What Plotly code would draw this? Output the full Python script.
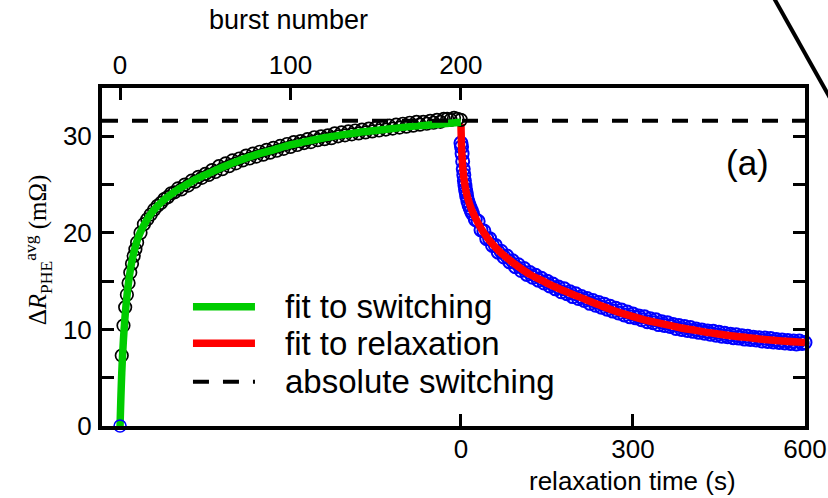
import plotly.graph_objects as go

# ---------------- data ----------------
# switching: burst number vs Delta R (mOhm)
burst_n = [1, 2, 3, 4, 5, 6, 7, 8, 9, 10,
           12, 14, 16, 18, 20, 22, 24, 26, 28, 30,
           32, 34, 36, 38, 40, 42, 44, 46, 48, 50,
           52, 54, 56, 58, 60, 62, 64, 66, 68, 70,
           72, 74, 76, 78, 80, 82, 84, 86, 88, 90,
           92, 94, 96, 98, 100, 102, 104, 106, 108, 110,
           112, 114, 116, 118, 120, 122, 124, 126, 128, 130,
           132, 134, 136, 138, 140, 142, 144, 146, 148, 150,
           152, 154, 156, 158, 160, 162, 164, 166, 168, 170,
           172, 174, 176, 178, 180, 182, 184, 186, 188, 190,
           192, 194, 196, 198, 200]
burst_R = [7.3, 10.4, 12.3, 13.6, 14.8, 15.9, 16.8, 17.6, 18.3, 19.0,
           20.0, 20.9, 21.4, 21.9, 22.4, 22.8, 23.1, 23.5, 23.7, 24.1,
           24.2, 24.6, 24.5, 25.0, 24.9, 25.4, 25.3, 25.8, 25.7, 26.1,
           26.0, 26.5, 26.3, 26.9, 26.6, 27.2, 26.9, 27.5, 27.2, 27.7,
           27.5, 28.0, 27.7, 28.2, 27.9, 28.4, 28.1, 28.6, 28.3, 28.8,
           28.5, 29.0, 28.7, 29.2, 28.9, 29.4, 29.1, 29.5, 29.3, 29.7,
           29.4, 29.9, 29.6, 30.0, 29.7, 30.1, 29.8, 30.3, 30.0, 30.4,
           30.1, 30.5, 30.2, 30.6, 30.3, 30.7, 30.4, 30.8, 30.5, 30.9,
           30.6, 31.0, 30.7, 31.1, 30.8, 31.2, 30.9, 31.3, 31.0, 31.4,
           31.1, 31.5, 31.2, 31.5, 31.3, 31.6, 31.4, 31.7, 31.5, 31.8,
           31.8, 31.7, 31.9, 31.8, 31.7]

# fit to switching
fit_sw_n = [0, 1, 2, 3, 4, 5, 6, 7, 8, 10, 12, 14, 17, 20, 25, 30, 35, 40, 45, 50,
            60, 70, 80, 90, 100, 110, 120, 130, 140, 150, 160, 170, 180, 190, 200]
fit_sw_R = [0.0, 5.5, 9.0, 11.5, 13.4, 14.9, 16.1, 17.1, 17.9, 19.2, 20.1, 20.8, 21.7, 22.4,
            23.3, 24.0, 24.6, 25.1, 25.6, 26.0, 26.8, 27.5, 28.1, 28.6, 29.1, 29.5, 29.85,
            30.15, 30.4, 30.6, 30.8, 31.0, 31.15, 31.3, 31.45]

# starting point (burst 0)
start_n = [0]
start_R = [0.0]

# relaxation: time (s) vs Delta R (mOhm)
relax_t = [0, 1, 2, 3, 4, 5, 6, 7, 8, 9, 10, 12, 14, 16, 18, 20,
           25, 30, 35, 40, 45, 50, 55, 60, 65, 70, 75, 80, 85, 90, 95, 100,
           105, 110, 115, 120, 125, 130, 135, 140, 145, 150, 155, 160, 165, 170,
           175, 180, 185, 190, 195, 200, 205, 210, 215, 220, 225, 230, 235, 240,
           245, 250, 255, 260, 265, 270, 275, 280, 285, 290, 295, 300, 305, 310,
           315, 320, 325, 330, 335, 340, 345, 350, 355, 360, 365, 370, 375, 380,
           385, 390, 395, 400, 405, 410, 415, 420, 425, 430, 435, 440, 445, 450,
           455, 460, 465, 470, 475, 480, 485, 490, 495, 500, 505, 510, 515, 520,
           525, 530, 535, 540, 545, 550, 555, 560, 565, 570, 575, 580, 585, 590,
           595, 600]
relax_R = [29.3, 28.9, 28.2, 27.4, 26.6, 26.0, 25.4, 24.9, 24.5, 24.2, 23.8, 23.3, 22.9, 22.6, 22.3, 22.0,
           21.4, 21.2, 20.3, 20.2, 19.4, 19.4, 18.7, 18.7, 18.0, 18.1, 17.5, 17.6, 17.0, 17.1, 16.5, 16.7,
           16.1, 16.3, 15.7, 15.9, 15.4, 15.6, 15.1, 15.3, 14.8, 15.0, 14.5, 14.7, 14.2, 14.4,
           13.9, 14.2, 13.7, 13.9, 13.4, 13.7, 13.2, 13.4, 13.0, 13.2, 12.7, 13.0, 12.5, 12.8,
           12.3, 12.6, 12.1, 12.4, 11.9, 12.2, 11.7, 12.0, 11.5, 11.8, 11.3, 11.6, 11.2, 11.4,
           11.0, 11.3, 10.8, 11.1, 10.7, 11.0, 10.5, 10.8, 10.4, 10.7, 10.3, 10.5, 10.1, 10.4,
           10.0, 10.3, 9.9, 10.2, 9.8, 10.05, 9.7, 9.95, 9.6, 9.85, 9.5, 9.8, 9.4, 9.7,
           9.3, 9.6, 9.25, 9.5, 9.15, 9.45, 9.1, 9.35, 9.0, 9.3, 8.95, 9.2, 8.9, 9.15,
           8.8, 9.1, 8.75, 9.05, 8.7, 8.95, 8.65, 8.9, 8.6, 8.85, 8.55, 8.8, 8.5, 8.8,
           8.55, 8.65]

# fit to relaxation
fit_rx_t = [0, 1, 2, 3, 5, 7, 10, 15, 20, 30, 40, 50, 65, 80, 100, 120, 140, 160, 180,
            200, 230, 260, 290, 320, 350, 380, 410, 440, 470, 500, 530, 560, 600]
fit_rx_R = [31.3, 29.0, 27.8, 26.9, 25.7, 24.9, 24.0, 23.0, 22.2, 21.0, 20.0, 19.2, 18.2,
            17.4, 16.5, 15.7, 15.1, 14.5, 14.0, 13.5, 12.8, 12.1, 11.5, 11.0, 10.6, 10.2,
            9.9, 9.6, 9.35, 9.15, 8.95, 8.8, 8.65]

abs_switching = 31.6

burst_ticks = [0, 100, 200]
relax_ticks = [0, 300, 600]
y_ticks = [0, 5, 10, 15, 20, 25, 30]
y_ticktext = ["0", "", "10", "", "20", "", "30"]

legend_labels = ["fit to switching", "fit to relaxation", "absolute switching"]

GREEN = "#00cc00"
RED = "#ff0000"
BLUE = "#0000ff"
SANS = "Liberation Sans, Arial, sans-serif"

fig = go.Figure()

# switching data (top axis)
fig.add_trace(go.Scatter(x=burst_n, y=burst_R, xaxis="x2", yaxis="y", mode="markers",
                         marker=dict(symbol="circle-open", size=12.5, color="black",
                                     line=dict(width=1.7, color="black")),
                         cliponaxis=False, showlegend=False))
fig.add_trace(go.Scatter(x=fit_sw_n, y=fit_sw_R, xaxis="x2", yaxis="y", mode="lines",
                         line=dict(color=GREEN, width=7.5, shape="spline"),
                         showlegend=False))
fig.add_trace(go.Scatter(x=start_n, y=start_R, xaxis="x2", yaxis="y", mode="markers",
                         marker=dict(symbol="circle-open", size=12, color=BLUE,
                                     line=dict(width=1.6, color=BLUE)),
                         cliponaxis=False, showlegend=False))

# relaxation data (bottom axis)
fig.add_trace(go.Scatter(x=relax_t, y=relax_R, xaxis="x", yaxis="y", mode="markers",
                         marker=dict(symbol="circle-open", size=13, color=BLUE,
                                     line=dict(width=2, color=BLUE)),
                         cliponaxis=False, showlegend=False))
fig.add_trace(go.Scatter(x=fit_rx_t, y=fit_rx_R, xaxis="x", yaxis="y", mode="lines",
                         line=dict(color=RED, width=7.5, shape="spline"),
                         showlegend=False))

# absolute switching level
fig.add_shape(type="line", xref="paper", yref="y", x0=0, x1=1, y0=abs_switching,
              y1=abs_switching, line=dict(color="black", width=4, dash="16px,14px"))

# manual legend
leg_y = [0.353, 0.2447, 0.1311]
leg_styles = [dict(color=GREEN, width=7.5), dict(color=RED, width=7.5),
              dict(color="black", width=4, dash="16px,14px")]
for yy, st, lab in zip(leg_y, leg_styles, legend_labels):
    fig.add_shape(type="line", xref="paper", yref="paper", x0=0.1294, x1=0.2176,
                  y0=yy, y1=yy, line=st)
    fig.add_annotation(xref="paper", yref="paper", x=0.2580, y=yy, text=lab,
                       showarrow=False, xanchor="left", yanchor="middle",
                       font=dict(family=SANS, size=33, color="black"))

# panel label
fig.add_annotation(xref="paper", yref="paper", x=0.9175, y=0.78, text="(a)",
                   showarrow=False, xanchor="center", yanchor="middle",
                   font=dict(family=SANS, size=35, color="black"))

# axis titles
fig.add_annotation(xref="paper", yref="paper", x=0.266, y=1.201, text="burst number",
                   showarrow=False, xanchor="center", yanchor="middle",
                   font=dict(family=SANS, size=27, color="black"))
fig.add_annotation(xref="paper", yref="paper", x=0.7553, y=-0.163,
                   text="relaxation time (s)", showarrow=False,
                   xanchor="center", yanchor="middle",
                   font=dict(family=SANS, size=26, color="black"))
fig.add_annotation(xref="paper", yref="paper", x=-0.091, y=0.52, textangle=-90,
                   text="Δ<i>R</i><sub>PHE</sub><sup>avg</sup> (mΩ)", showarrow=False,
                   xanchor="center", yanchor="middle",
                   font=dict(family="Liberation Serif, Times New Roman, serif", size=25,
                             color="black"))

# diagonal line at top right (edge of adjacent panel)
fig.add_shape(type="line", xref="paper", yref="paper", x0=0.9502, y0=1.287,
              x1=1.064, y1=0.865, line=dict(color="black", width=4))

axis_common = dict(showgrid=False, zeroline=False, showline=True, linecolor="black",
                   linewidth=4, ticks="inside", ticklen=12, tickwidth=3,
                   tickcolor="black", automargin=False,
                   tickfont=dict(family=SANS, size=26, color="black"))

fig.update_layout(
    width=828, height=498,
    margin=dict(l=102, r=23, t=88, b=72, autoexpand=False),
    paper_bgcolor="white", plot_bgcolor="white",
    showlegend=False,
    xaxis=dict(range=[-626, 600], tickvals=relax_ticks, ticklabelstandoff=-3,
               side="bottom", **axis_common),
    xaxis2=dict(range=[-10.6, 402], tickvals=burst_ticks, overlaying="x", side="top",
                ticklabelstandoff=0, anchor="y", **axis_common),
    yaxis=dict(range=[0, 35], tickvals=y_ticks, ticktext=y_ticktext, mirror="ticks",
               ticklabelstandoff=1, **axis_common),
)

fig.write_html("out.html")
